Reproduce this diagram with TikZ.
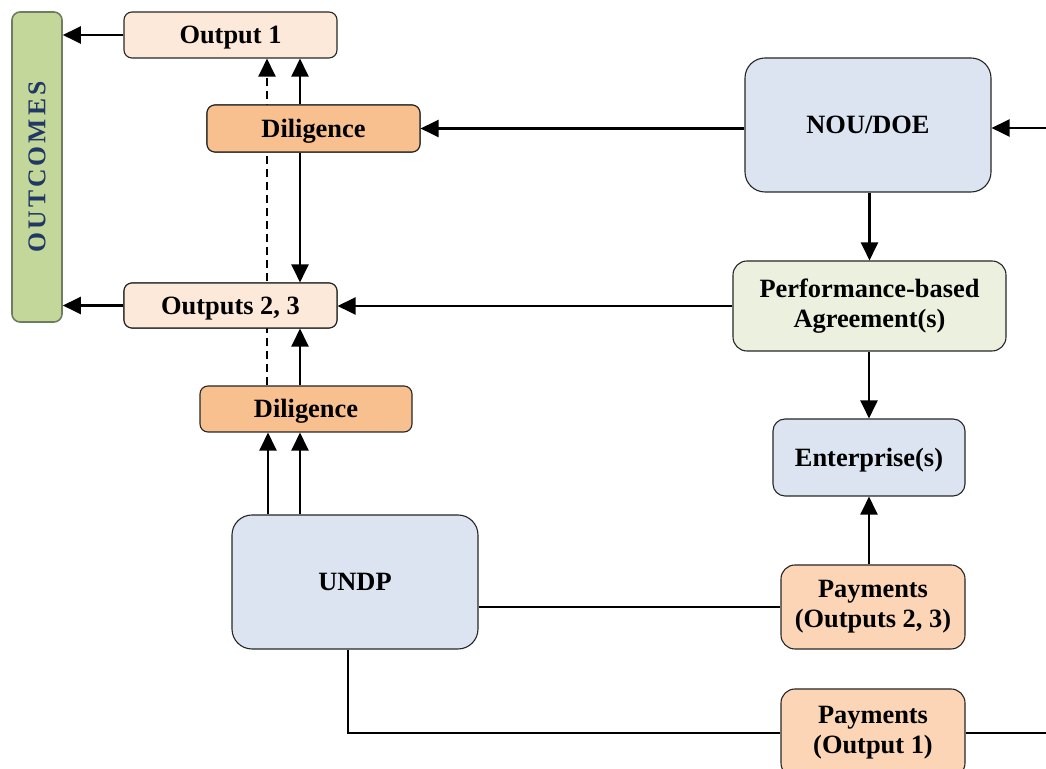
\documentclass[tikz,border=0pt]{standalone}
\usepackage{fontspec}
\setmainfont{Liberation Serif}
\usetikzlibrary{arrows.meta,calc}
\definecolor{outfill}{RGB}{252,233,218}
\definecolor{dilfill}{RGB}{248,192,142}
\definecolor{bluefill}{RGB}{219,228,240}
\definecolor{pbafill}{RGB}{235,241,222}
\definecolor{payfill}{RGB}{251,213,181}
\definecolor{ocfill}{RGB}{196,215,155}
\definecolor{ocdraw}{RGB}{110,125,95}
\definecolor{octext}{RGB}{31,56,100}
\tikzset{
  box/.style={draw=black!85, line width=0.55pt, rounded corners=4pt, align=center,
    font=\fontsize{13.2}{15}\selectfont\bfseries, inner sep=0pt},
  one/.style={box, text height=9pt, text depth=0pt},
  bigbox/.style={one, rounded corners=10pt},
  two/.style={box, rounded corners=7pt},
  arr/.style={line width=1.1pt, -{Triangle[length=9pt,width=8.5pt]}},
  link/.style={line width=0.75pt},
}
\begin{document}
\begin{tikzpicture}[x=0.5pt,y=-0.5pt]
\useasboundingbox (0,0) rectangle (1046,769);
% guide coordinates
\coordinate (xd) at (267,0);
\coordinate (xs) at (300,0);
\coordinate (xs2) at (268,0);
\coordinate (redge1) at (1046,128);
\coordinate (redge2) at (1046,733);
% nodes
\node[box, fill=ocfill, draw=ocdraw, line width=0.8pt, minimum width=25pt, minimum height=155pt] (outc) at (37,167)
  {\rotatebox{90}{\fontsize{12.8}{14}\selectfont\bfseries\color{octext}\addfontfeature{LetterSpace=12}OUTCOMES}};
\node[one, fill=outfill, minimum width=106.5pt, minimum height=23pt] (out1) at (230.5,35) {Output 1};
\node[one, fill=dilfill, minimum width=106.5pt, minimum height=23.5pt] (dil1) at (313.5,128.5) {Diligence};
\node[one, fill=outfill, minimum width=106.5pt, minimum height=22.5pt] (out23) at (230.5,305.5) {Outputs 2, 3};
\node[one, fill=dilfill, minimum width=106pt, minimum height=23pt] (dil2) at (306,409) {Diligence};
\node[bigbox, fill=bluefill, minimum width=123pt, minimum height=67pt] (undp) at (355,582) {UNDP};
\node[bigbox, fill=bluefill, minimum width=123pt, minimum height=67pt] (nou) at (868,125) {NOU/DOE};
\node[two, fill=pbafill, minimum width=136.5pt, minimum height=45pt] (pba) at (869.5,306) {Performance-based\\Agreement(s)};
\node[one, rounded corners=6pt, fill=bluefill, minimum width=96pt, minimum height=38.5pt] (ent) at (869,457.5) {Enterprise(s)};
\node[two, fill=payfill, minimum width=92pt, minimum height=42pt] (pay23) at (873,607) {\raisebox{-1pt}{Payments}\\\raisebox{-1pt}{(Outputs 2, 3)}};
\node[two, fill=payfill, minimum width=92pt, minimum height=44pt] (pay1) at (873,733) {Payments\\(Output 1)};
% dashed line behind boxes
\draw[arr, dash pattern=on 4pt off 2.5pt] (dil2.north -| xd) -- (out1.south -| xd);
% redraw boxes over dashed line
\node[one, fill=dilfill, minimum width=106.5pt, minimum height=23.5pt] at (313.5,128.5) {Diligence};
\node[one, fill=outfill, minimum width=106.5pt, minimum height=22.5pt] at (230.5,305.5) {Outputs 2, 3};
% connectors
\draw[arr] (out1.west) -- (outc.east |- out1.west);
\draw[arr] (out23.west) -- (outc.east |- out23.west);
\draw[arr] (dil1.north -| xs) -- (out1.south -| xs);
\draw[arr] (dil1.south -| xs) -- (out23.north -| xs);
\draw[arr] (dil2.north -| xs) -- (out23.south -| xs);
\draw[arr] (undp.north -| xs2) -- (dil2.south -| xs2);
\draw[arr] (undp.north -| xs) -- (dil2.south -| xs);
\draw[arr] (nou.west |- dil1.east) -- (dil1.east);
\draw[arr] (redge1) -- (nou.east |- redge1);
\draw[arr] (nou.south -| pba.north) -- (pba.north);
\draw[arr] (pba.west) -- (out23.east |- pba.west);
\draw[arr] (pba.south -| ent.north) -- (ent.north);
\draw[arr] (pay23.north -| ent.south) -- (ent.south);
\draw[link] (undp.east |- pay23.west) -- (pay23.west);
\draw[link] ($(undp.south)+(-7,0)$) |- (pay1.west);
\draw[link] (pay1.east) -- (redge2 |- pay1.east);
\end{tikzpicture}
\end{document}
